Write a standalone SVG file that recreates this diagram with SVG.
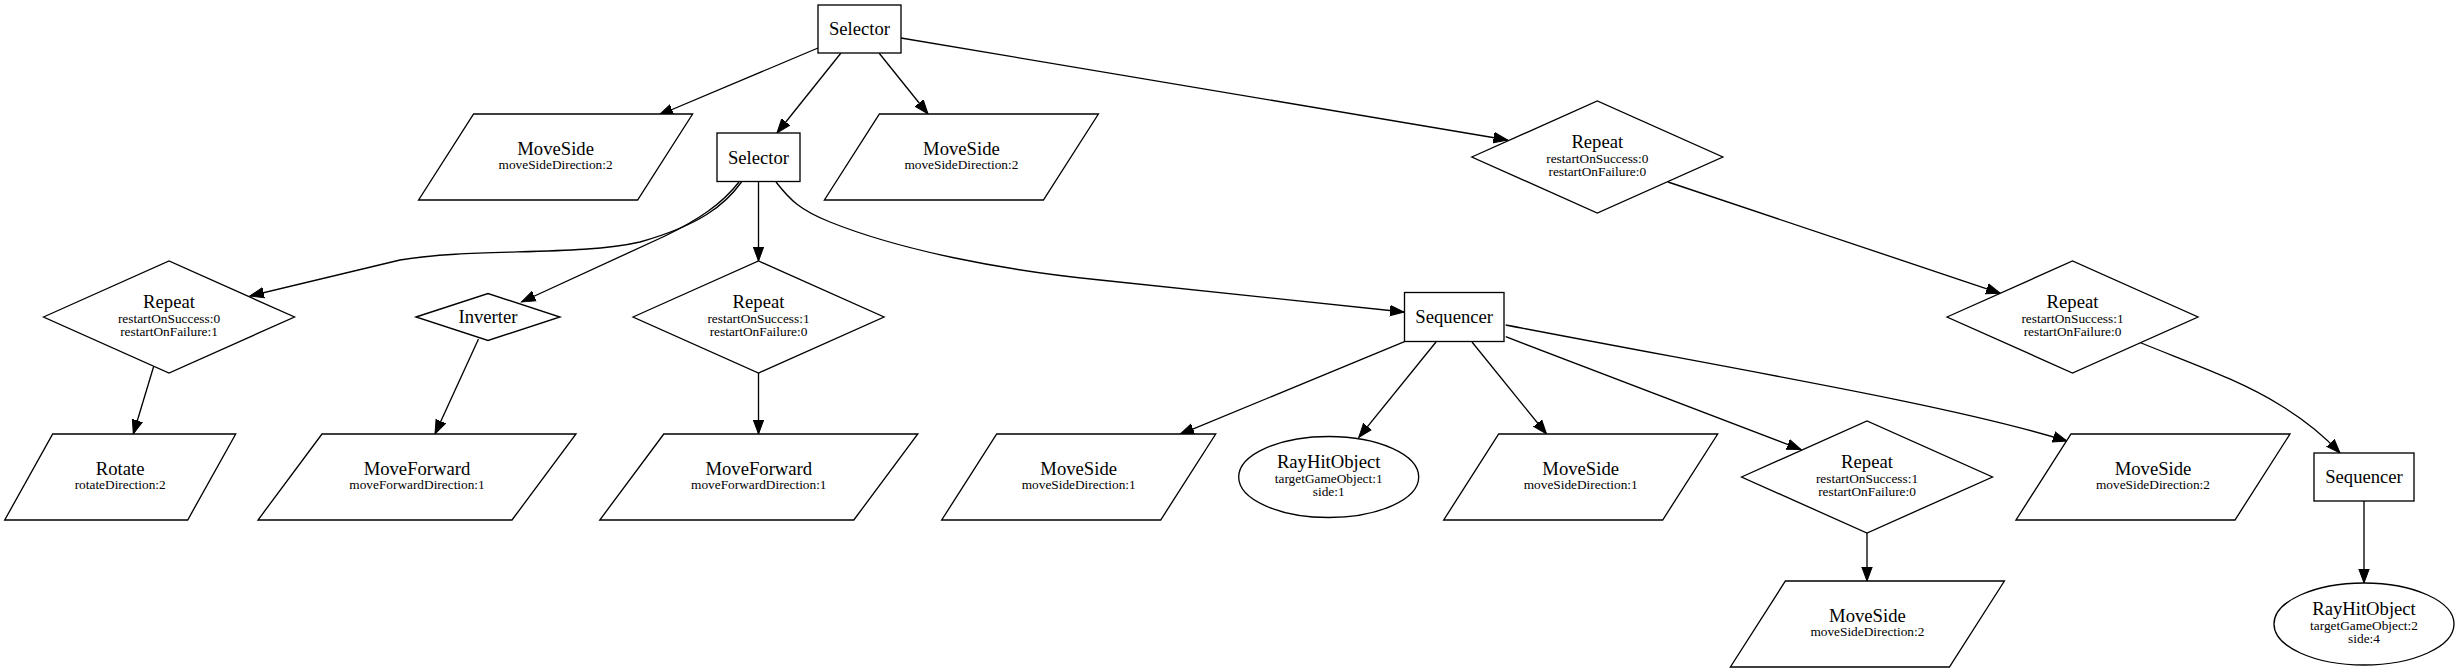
<svg xmlns="http://www.w3.org/2000/svg" width="2459" height="672" viewBox="0 0 2459 672">
<style>
.n{fill:#fff;stroke:#000;stroke-width:1.33}
.e{fill:none;stroke:#000;stroke-width:1.33}
.t{font-family:"Liberation Serif","Times New Roman",serif;font-size:18.67px;text-anchor:middle;fill:#000}
.s{font-family:"Liberation Serif","Times New Roman",serif;font-size:13.33px;text-anchor:middle;fill:#000}
</style>
<defs>
<marker id="ah" markerUnits="userSpaceOnUse" markerWidth="16" markerHeight="14" refX="14" refY="6" orient="auto">
<path d="M0,0.8 L14,6 L0,11.2 z" fill="#000" stroke="#000" stroke-width="1"/>
</marker>
</defs>
<rect width="2459" height="672" fill="#fff"/>
<g id="edges">
<path class="e" marker-end="url(#ah)" d="M818,48 L659,115"/>
<path class="e" marker-end="url(#ah)" d="M841,53 L777,133"/>
<path class="e" marker-end="url(#ah)" d="M879,53 L928,114"/>
<path class="e" marker-end="url(#ah)" d="M901,38 L1507.6,140"/>
<path class="e" marker-end="url(#ah)" d="M741.5,182 C725,205 700,225 640,242 C580,256 470,248 400,260 L250,296"/>
<path class="e" marker-end="url(#ah)" d="M739,182 C722,204 698,220 665,236 L521.5,302"/>
<path class="e" marker-end="url(#ah)" d="M758.5,182 L758.5,261"/>
<path class="e" marker-end="url(#ah)" d="M776,182 C790,200 800,210 830,222 C900,250 1000,270 1100,280 C1200,290 1300,302 1404,312"/>
<path class="e" marker-end="url(#ah)" d="M1668,182 L2000.3,293.3"/>
<path class="e" marker-end="url(#ah)" d="M153.8,366 L133.3,434"/>
<path class="e" marker-end="url(#ah)" d="M478.5,339 L435,434"/>
<path class="e" marker-end="url(#ah)" d="M758.5,373 L758.5,434"/>
<path class="e" marker-end="url(#ah)" d="M1404.5,341.7 L1180,434.3"/>
<path class="e" marker-end="url(#ah)" d="M1436,342 L1358.8,437.3"/>
<path class="e" marker-end="url(#ah)" d="M1472,342 L1546.5,434"/>
<path class="e" marker-end="url(#ah)" d="M1505.7,336.7 L1801,449.5"/>
<path class="e" marker-end="url(#ah)" d="M1505.7,325 C1750,372 1950,405 2067,441"/>
<path class="e" marker-end="url(#ah)" d="M2140,342.5 C2190,363 2240,380 2280,405 C2305,420 2325,437 2340,453"/>
<path class="e" marker-end="url(#ah)" d="M1867,533 L1867,581"/>
<path class="e" marker-end="url(#ah)" d="M2364,501 L2364,583"/>
</g>
<g id="selector_root">
<rect class="n" x="818" y="5" width="83" height="48"/>
<text class="t" x="859.5" y="35">Selector</text>
</g>
<g id="moveside_a">
<polygon class="n" points="473.6,114 692.6,114 637.6,200 418.6,200"/>
<text class="t" x="555.6" y="155">MoveSide</text>
<text class="s" x="555.6" y="168.5">moveSideDirection:2</text>
</g>
<g id="selector_b">
<rect class="n" x="717" y="133" width="83" height="48.5"/>
<text class="t" x="758.5" y="163.5">Selector</text>
</g>
<g id="moveside_c">
<polygon class="n" points="879.4,114 1098.4,114 1043.4,200 824.4,200"/>
<text class="t" x="961.4" y="155">MoveSide</text>
<text class="s" x="961.4" y="168.5">moveSideDirection:2</text>
</g>
<g id="repeat_top">
<polygon class="n" points="1471.8,157 1597.3,101 1722.8,157 1597.3,213"/>
<text class="t" x="1597.3" y="148">Repeat</text>
<text class="s" x="1597.3" y="162.5">restartOnSuccess:0</text>
<text class="s" x="1597.3" y="175.5">restartOnFailure:0</text>
</g>
<g id="repeat_left">
<polygon class="n" points="43.5,317 169,261 294.5,317 169,373"/>
<text class="t" x="169" y="308">Repeat</text>
<text class="s" x="169" y="322.5">restartOnSuccess:0</text>
<text class="s" x="169" y="335.5">restartOnFailure:1</text>
</g>
<g id="inverter">
<polygon class="n" points="416,317 488,293.5 560,317 488,340.5"/>
<text class="t" x="488" y="323">Inverter</text>
</g>
<g id="repeat_mid">
<polygon class="n" points="633,317 758.5,261 884,317 758.5,373"/>
<text class="t" x="758.5" y="308">Repeat</text>
<text class="s" x="758.5" y="322.5">restartOnSuccess:1</text>
<text class="s" x="758.5" y="335.5">restartOnFailure:0</text>
</g>
<g id="sequencer_a">
<rect class="n" x="1404.5" y="292.5" width="99.5" height="49"/>
<text class="t" x="1454.2" y="323">Sequencer</text>
</g>
<g id="repeat_right">
<polygon class="n" points="1947,317 2072.5,261 2198,317 2072.5,373"/>
<text class="t" x="2072.5" y="308">Repeat</text>
<text class="s" x="2072.5" y="322.5">restartOnSuccess:1</text>
<text class="s" x="2072.5" y="335.5">restartOnFailure:0</text>
</g>
<g id="rotate">
<polygon class="n" points="52.7,434 235.7,434 187.7,520 4.7,520"/>
<text class="t" x="120.2" y="475">Rotate</text>
<text class="s" x="120.2" y="488.5">rotateDirection:2</text>
</g>
<g id="moveforward_a">
<polygon class="n" points="322,434 576,434 512,520 258,520"/>
<text class="t" x="417" y="475">MoveForward</text>
<text class="s" x="417" y="488.5">moveForwardDirection:1</text>
</g>
<g id="moveforward_b">
<polygon class="n" points="663.8,434 917.8,434 853.8,520 599.8,520"/>
<text class="t" x="758.8" y="475">MoveForward</text>
<text class="s" x="758.8" y="488.5">moveForwardDirection:1</text>
</g>
<g id="moveside_d">
<polygon class="n" points="996.7,434 1215.7,434 1160.7,520 941.7,520"/>
<text class="t" x="1078.7" y="475">MoveSide</text>
<text class="s" x="1078.7" y="488.5">moveSideDirection:1</text>
</g>
<g id="rayhit_a">
<ellipse class="n" cx="1328.7" cy="477" rx="90" ry="40.5"/>
<text class="t" x="1328.7" y="468">RayHitObject</text>
<text class="s" x="1328.7" y="482.5">targetGameObject:1</text>
<text class="s" x="1328.7" y="495.5">side:1</text>
</g>
<g id="moveside_e">
<polygon class="n" points="1498.7,434 1717.7,434 1662.7,520 1443.7,520"/>
<text class="t" x="1580.7" y="475">MoveSide</text>
<text class="s" x="1580.7" y="488.5">moveSideDirection:1</text>
</g>
<g id="repeat_bottom">
<polygon class="n" points="1741.5,477 1867,421 1992.5,477 1867,533"/>
<text class="t" x="1867" y="468">Repeat</text>
<text class="s" x="1867" y="482.5">restartOnSuccess:1</text>
<text class="s" x="1867" y="495.5">restartOnFailure:0</text>
</g>
<g id="moveside_f">
<polygon class="n" points="2071,434 2290,434 2235,520 2016,520"/>
<text class="t" x="2153" y="475">MoveSide</text>
<text class="s" x="2153" y="488.5">moveSideDirection:2</text>
</g>
<g id="sequencer_b">
<rect class="n" x="2314" y="453" width="100" height="48"/>
<text class="t" x="2364" y="483">Sequencer</text>
</g>
<g id="moveside_g">
<polygon class="n" points="1785.4,581 2004.4,581 1949.4,667 1730.4,667"/>
<text class="t" x="1867.4" y="622">MoveSide</text>
<text class="s" x="1867.4" y="635.5">moveSideDirection:2</text>
</g>
<g id="rayhit_b">
<ellipse class="n" cx="2364" cy="624" rx="90" ry="41"/>
<text class="t" x="2364" y="615">RayHitObject</text>
<text class="s" x="2364" y="629.5">targetGameObject:2</text>
<text class="s" x="2364" y="642.5">side:4</text>
</g>
</svg>
